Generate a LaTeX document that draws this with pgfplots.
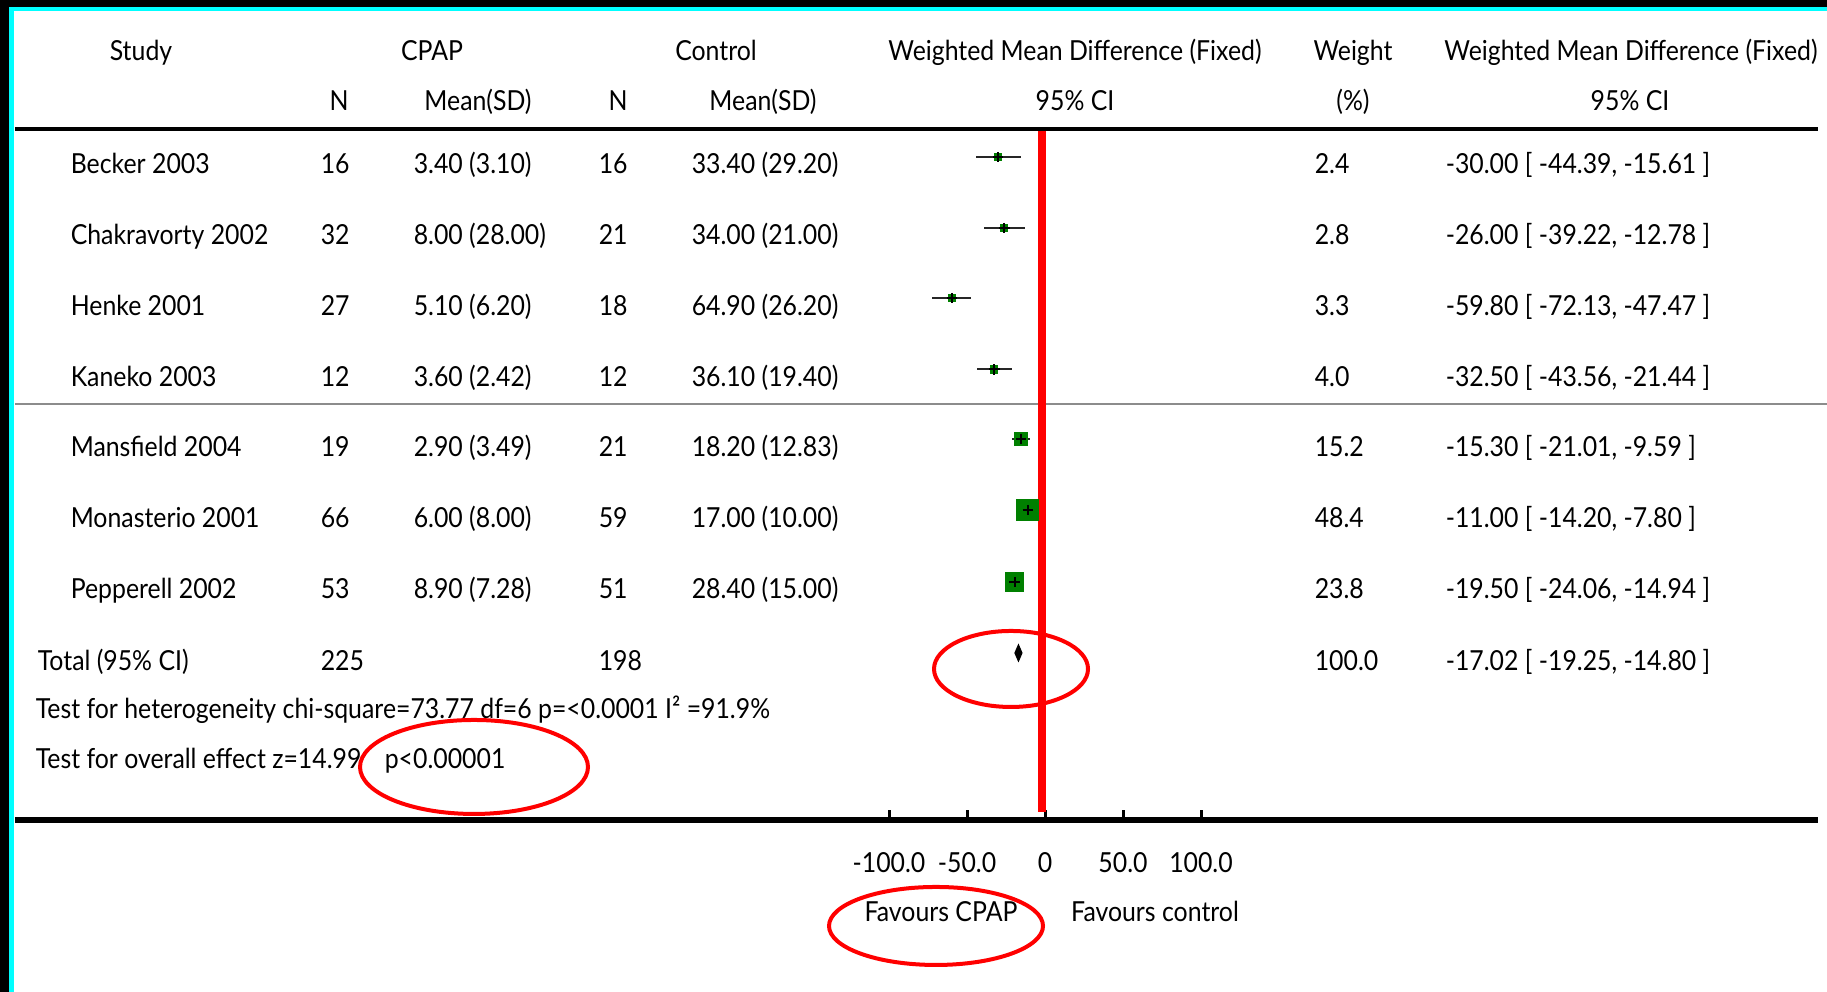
\documentclass[border=0pt]{standalone}
\usepackage{pgfplots}
\pgfplotsset{compat=1.18}
\usepackage{pgfplotstable}
\usepackage{fontspec}
\setmainfont{Lato}[FakeStretch=0.9]
\definecolor{fgreen}{HTML}{008000}
\definecolor{cyanb}{HTML}{00FFFF}

\pgfplotstableread{
wmd    row   em    ep    ms
-30.00 835   14.39 14.39 0.84
-26.00 764   13.22 13.22 0.80
-59.80 694   12.33 12.33 0.80
-32.50 622.5 11.06 11.06 0.84
-15.30 553   5.71  5.71  1.54
-11.00 482   3.20  3.20  2.66
-19.50 410   4.56  4.56  2.21
}\studies

\newcommand\txt[4][base west]{\node[anchor=#1,inner sep=0pt] at (axis cs:{(#2-1045)/1.56},{992-#3}) {#4};}
\newcommand\studyrow[8]{%
  \txt{70}{#1}{#2}\txt{320}{#1}{#3}\txt{413}{#1}{#4}\txt{598}{#1}{#5}%
  \txt{691}{#1}{#6}\txt{1314}{#1}{#7}\txt{1445}{#1}{#8}}

\begin{document}
\fontsize{6.9bp}{8bp}\selectfont
\begin{tikzpicture}
\begin{axis}[
  scale only axis, width=450.75bp, height=172.75bp,
  xmin=-660.26, xmax=495.51, ymin=172, ymax=863,
  axis x line=bottom, axis y line=none,
  x axis line style={-, line width=1.5bp, black},
  every outer x axis line/.append style={-},
  xtick={-100,-50,0,50,100},
  xticklabels={-100.0,-50.0,0,50.0,100.0},
  major tick length=2.5bp,
  xtick style={line width=0.75bp, black},
  tick align=inside,
  xticklabel style={anchor=base, yshift=-13.25bp, inner sep=0pt},
  clip=false,
]
% borders
\fill[black] (axis cs:-669.87,0) rectangle (axis cs:-664.10,992);
\fill[black] (axis cs:-669.87,985) rectangle (axis cs:501.28,992);
\fill[cyanb] (axis cs:-664.10,0) rectangle (axis cs:-660.90,985);
\fill[cyanb] (axis cs:-664.10,981) rectangle (axis cs:501.28,985);
\coordinate (BL) at (axis cs:-669.87,0);
\coordinate (TR) at (axis cs:501.28,992);
% rules
\draw[line width=1bp] (axis cs:-660.26,863) -- (axis cs:495.51,863);
\draw[line width=0.4bp, black!45] (axis cs:-660.26,588) -- (axis cs:501.28,588);
% red line of no effect
\addplot[red, line width=2bp, mark=none] coordinates {(-1.92,861) (-1.92,180)};
% study squares
\addplot[scatter, only marks, mark=square*,
  scatter/use mapped color={draw=fgreen, fill=fgreen},
  visualization depends on={\thisrow{ms} \as \msz},
  scatter/@pre marker code/.append style={/tikz/mark size=\msz bp}]
  table[x=wmd,y=row]{\studies};
% confidence intervals
\addplot[draw=none, mark=none,
  error bars/.cd, x dir=both, x explicit, error mark=none,
  error bar style={black!85, line width=0.5bp}]
  table[x=wmd, y=row, x error minus=em, x error plus=ep]{\studies};
% centre crosses
\addplot[only marks, mark=+, mark size=1.3bp, mark options={black, line width=0.5bp}]
  table[x=wmd, y=row]{\studies};
% pooled diamond
\addplot[fill=black, draw=black, line width=0.3bp, mark=none]
  coordinates {(-19.25,339) (-17.02,347) (-14.80,339) (-17.02,331)} -- cycle;
% headers
\txt[base]{141}{61}{Study}
\txt[base]{432}{61}{CPAP}
\txt[base]{716}{61}{Control}
\txt[base]{1075}{61}{Weighted Mean Difference (Fixed)}
\txt[base]{1353}{61}{Weight}
\txt[base]{1631}{61}{Weighted Mean Difference (Fixed)}
\txt[base]{339}{111}{N}
\txt[base]{478}{111}{Mean(SD)}
\txt[base]{618}{111}{N}
\txt[base]{763}{111}{Mean(SD)}
\txt[base]{1075}{111}{95\% CI}
\txt[base]{1353}{111}{(\%)}
\txt[base]{1630}{111}{95\% CI}
% rows
\studyrow{174}{Becker 2003}{16}{3.40 (3.10)}{16}{33.40 (29.20)}{2.4}{-30.00 [ -44.39, -15.61 ]}
\studyrow{245}{Chakravorty 2002}{32}{8.00 (28.00)}{21}{34.00 (21.00)}{2.8}{-26.00 [ -39.22, -12.78 ]}
\studyrow{316}{Henke 2001}{27}{5.10 (6.20)}{18}{64.90 (26.20)}{3.3}{-59.80 [ -72.13, -47.47 ]}
\studyrow{387}{Kaneko 2003}{12}{3.60 (2.42)}{12}{36.10 (19.40)}{4.0}{-32.50 [ -43.56, -21.44 ]}
\studyrow{457}{Mansfield 2004}{19}{2.90 (3.49)}{21}{18.20 (12.83)}{15.2}{-15.30 [ -21.01, -9.59 ]}
\studyrow{528}{Monasterio 2001}{66}{6.00 (8.00)}{59}{17.00 (10.00)}{48.4}{-11.00 [ -14.20, -7.80 ]}
\studyrow{599}{Pepperell 2002}{53}{8.90 (7.28)}{51}{28.40 (15.00)}{23.8}{-19.50 [ -24.06, -14.94 ]}
\txt{37}{671}{Total (95\% CI)}
\txt{320}{671}{225}
\txt{598}{671}{198}
\txt{1314}{671}{100.0}
\txt{1445}{671}{-17.02 [ -19.25, -14.80 ]}
% footer
\txt{35}{719}{Test for heterogeneity chi-square=73.77 df=6 p=<0.0001 I² =91.9\%}
\txt{35}{769}{Test for overall effect z=14.99}
\txt{384}{769}{p<0.00001}
\txt[base]{941}{922}{Favours CPAP}
\txt[base]{1155}{922}{Favours control}
% red ellipses
\draw[red, line width=1bp] (axis cs:-21.79,323) ellipse [x radius=19.25bp, y radius=9.5bp];
\draw[red, line width=1bp] (axis cs:-366.03,225) ellipse [x radius=28.5bp, y radius=11.75bp];
\draw[red, line width=1bp] (axis cs:-69.87,66) ellipse [x radius=26.75bp, y radius=9.75bp];
\end{axis}
\pgfresetboundingbox
\path (BL) rectangle (TR);
\end{tikzpicture}
\end{document}
